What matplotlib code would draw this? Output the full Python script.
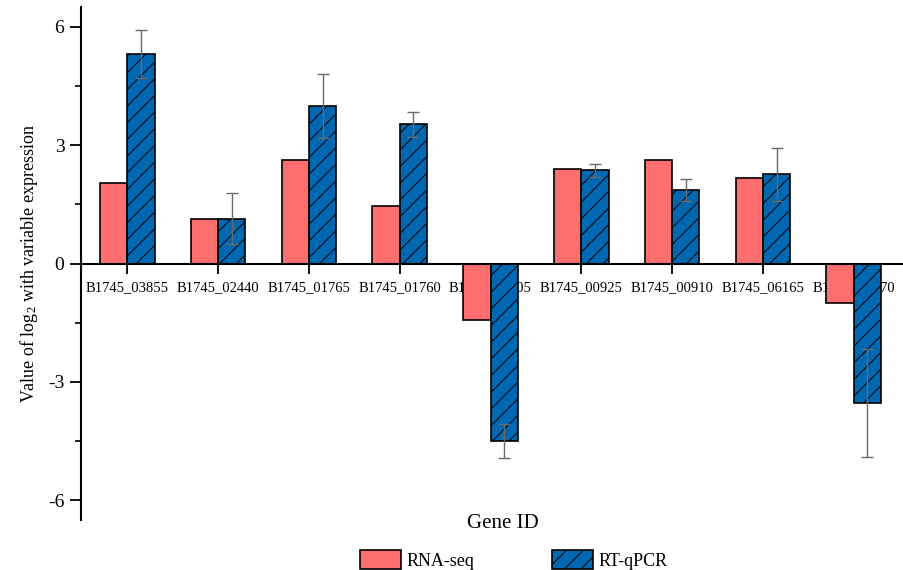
import numpy as np
import matplotlib
matplotlib.use("Agg")
import matplotlib.pyplot as plt
from matplotlib.ticker import MultipleLocator

# -------------------------------------------------------------
# Data
# -------------------------------------------------------------
genes = ["B1745_03855", "B1745_02440", "B1745_01765", "B1745_01760", "B1745_01705",
         "B1745_00925", "B1745_00910", "B1745_06165", "B1745_08070"]
rna_seq = [2.03, 1.12, 2.62, 1.45, -1.42, 2.39, 2.62, 2.16, -1.00]
rt_qpcr = [5.31, 1.14, 3.99, 3.53, -4.50, 2.36, 1.86, 2.26, -3.54]
rt_qpcr_err = [0.61, 0.65, 0.82, 0.32, 0.43, 0.17, 0.28, 0.67, 1.37]

plt.rcParams['font.family'] = ['Liberation Serif', 'DejaVu Serif']
plt.rcParams['hatch.linewidth'] = 0.7
plt.rcParams['mathtext.fontset'] = 'custom'
plt.rcParams['mathtext.rm'] = 'Liberation Serif'
plt.rcParams['mathtext.it'] = 'Liberation Serif:italic'

fig = plt.figure(figsize=(9.04, 5.70), dpi=100)
ax = fig.add_axes([0.0896, 0.0877, 0.908, 0.900])

x = np.arange(1, len(genes) + 1)
w = 0.3

ax.bar(x - w / 2, rna_seq, w, color="#FF6F6F", edgecolor="black", linewidth=1.2,
       label="RNA-seq", zorder=2)
ax.bar(x + w / 2, rt_qpcr, w, color="#0067B1", edgecolor="black", linewidth=1.2,
       hatch="//", label="RT-qPCR", zorder=2)
ax.errorbar(x + w / 2, rt_qpcr, yerr=rt_qpcr_err, fmt="none", ecolor="#6a6a6a",
            elinewidth=1.0, capsize=4, capthick=1.0, zorder=3)

ax.set_xlim(0.49, 9.53)
ax.set_ylim(-6.5, 6.5)

# axis styling
ax.spines['top'].set_visible(False)
ax.spines['right'].set_visible(False)
ax.spines['bottom'].set_position(('data', 0))
ax.spines['left'].set_linewidth(1.5)
ax.spines['bottom'].set_linewidth(1.5)
ax.spines['bottom'].set_zorder(4)

ax.yaxis.set_minor_locator(MultipleLocator(1.5))
ax.set_yticks([-6, -3, 0, 3, 6])
ax.set_yticklabels(["-6", "-3", "0", "3", "6"])
ax.tick_params(axis='y', which='major', direction='out', length=8, width=1.3,
               labelsize=14, pad=4)
ax.tick_params(axis='y', which='minor', direction='out', length=4.5, width=1.2)

ax.set_xticks(x)
ax.set_xticklabels(genes)
ax.tick_params(axis='x', which='major', direction='out', length=7, width=1.3,
               labelsize=10.5, pad=6)

ax.set_ylabel(r"Value of log$_2$ with variable expression", fontsize=13, labelpad=6)
fig.text(0.556, 0.082, "Gene ID", fontsize=15, ha="center", va="center")

fig.legend(loc="center", bbox_to_anchor=(0.568, 0.0175), ncol=2, frameon=False,
           fontsize=13, handlelength=2.27, handleheight=1.2, handletextpad=0.3,
           columnspacing=4.3, borderpad=0)

fig.savefig("out.png", dpi=100)
